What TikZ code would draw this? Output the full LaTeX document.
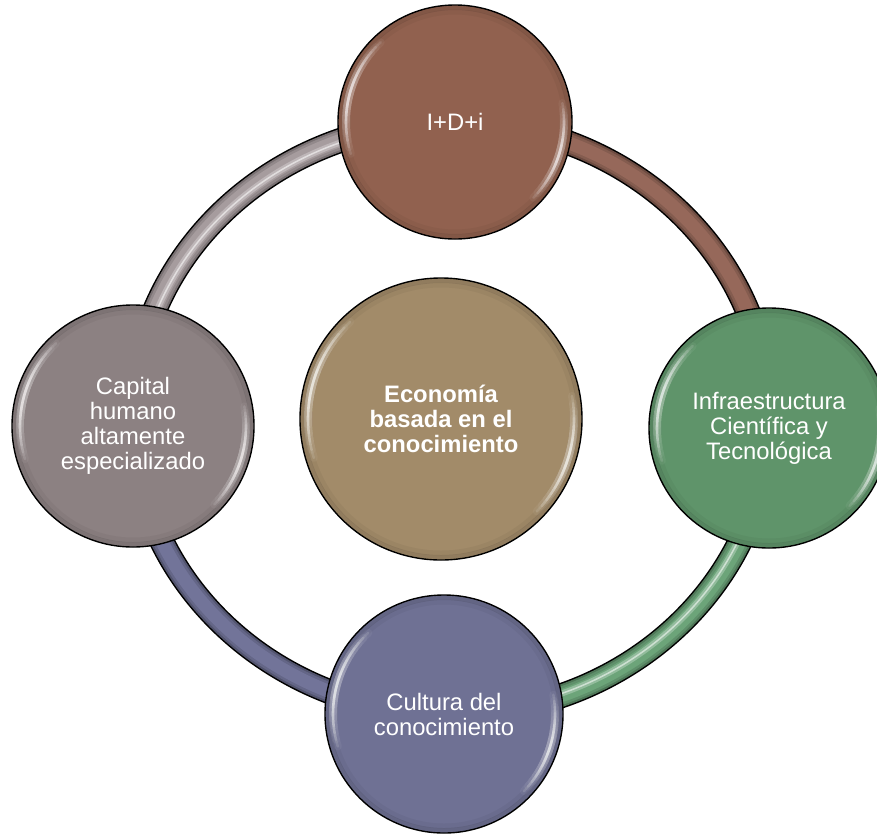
\documentclass[tikz,border=0pt]{standalone}
\usepackage{fontspec}
\setmainfont{Liberation Sans}
\definecolor{cTop}{HTML}{91614F}
\definecolor{cRight}{HTML}{5F946A}
\definecolor{cBottom}{HTML}{6F7194}
\definecolor{cLeft}{HTML}{8C8182}
\definecolor{cCenter}{HTML}{A28B69}
\definecolor{sTop}{HTML}{96685A}
\definecolor{sRight}{HTML}{6CA479}
\definecolor{sBottom}{HTML}{727499}
\definecolor{sLeft}{HTML}{A69C9E}
\newcommand\ringseg[4]{%
  \draw[line width=25, black] (ringc) ++(#1:318 and 296) arc[start angle=#1, end angle=#2, x radius=318, y radius=296];
  \draw[line width=22, #3!72!black] (ringc) ++(#1:318 and 296) arc[start angle=#1, end angle=#2, x radius=318, y radius=296];
  \draw[line width=18, #3!88!black] (ringc) ++(#1:318 and 296) arc[start angle=#1, end angle=#2, x radius=318, y radius=296];
  \draw[line width=13, #3] (ringc) ++(#1:318 and 296) arc[start angle=#1, end angle=#2, x radius=318, y radius=296];
  \ifnum#4=1
  \draw[line width=6, #3!55!white, opacity=0.6] (ringc) ++(#1:316 and 294) arc[start angle=#1, end angle=#2, x radius=316, y radius=294];
  \draw[line width=1.5, white, opacity=0.55] (ringc) ++(#1:316 and 294) arc[start angle=#1, end angle=#2, x radius=316, y radius=294];
  \fi
}
\newcommand\shinearcs[2]{%
  \draw[black, opacity=0.10, line width=4] (#1.center) circle[radius=#2-3];
  \draw[black, opacity=0.04, line width=5] (#1.center) circle[radius=#2-7];
  \foreach \i in {0,...,7}{
    \draw[white, opacity=0.05, line width=8, line cap=round] (#1.center) ++({163+3.6*\i}:#2-8) arc[start angle={163+3.6*\i}, end angle={227-3.6*\i}, radius=#2-8];
    \draw[white, opacity=0.13, line width=2.6, line cap=round] (#1.center) ++({163+3.6*\i}:#2-8) arc[start angle={163+3.6*\i}, end angle={227-3.6*\i}, radius=#2-8];
    \draw[white, opacity=0.05, line width=8, line cap=round] (#1.center) ++({-10+3.2*\i}:#2-8) arc[start angle={-10+3.2*\i}, end angle={44-3.2*\i}, radius=#2-8];
    \draw[white, opacity=0.13, line width=2.6, line cap=round] (#1.center) ++({-10+3.2*\i}:#2-8) arc[start angle={-10+3.2*\i}, end angle={44-3.2*\i}, radius=#2-8];
  }
}
\begin{document}
\begin{tikzpicture}[x=1pt, y=-1pt,
  ball/.style={circle, draw=black, line width=1.4pt, inner sep=0pt, align=center,
    text=white, font=\fontsize{23.8}{25}\selectfont},
  hub/.style={ball, font=\fontsize{23.8}{25}\selectfont\bfseries}]
\clip (0,0) rectangle (877,836);
\useasboundingbox (0,0) rectangle (877,836);
\coordinate (ringc) at (451,418);
% ring segments
\ringseg{270}{360}{sTop}{0}
\ringseg{0}{90}{sRight}{1}
\ringseg{90}{180}{sBottom}{0}
\ringseg{180}{270}{sLeft}{1}
% circles
\node[ball, fill=cTop, minimum size=234] (top) at (455,122) {I+D+i};
\shinearcs{top}{117}
\node[ball, fill=cRight, minimum size=240] (right) at (769,428) {Infraestructura\\Científica y\\Tecnológica};
\shinearcs{right}{120}
\node[ball, fill=cBottom, minimum size=238] (bottom) at (444,714) {Cultura del\\conocimiento};
\shinearcs{bottom}{119}
\node[ball, fill=cLeft, minimum size=242] (left) at (133,426) {Capital\\humano\\altamente\\especializado};
\shinearcs{left}{121}
\node[hub, fill=cCenter, minimum size=282] (center) at (441,419) {Economía\\basada en el\\conocimiento};
\shinearcs{center}{141}
\end{tikzpicture}
\end{document}
